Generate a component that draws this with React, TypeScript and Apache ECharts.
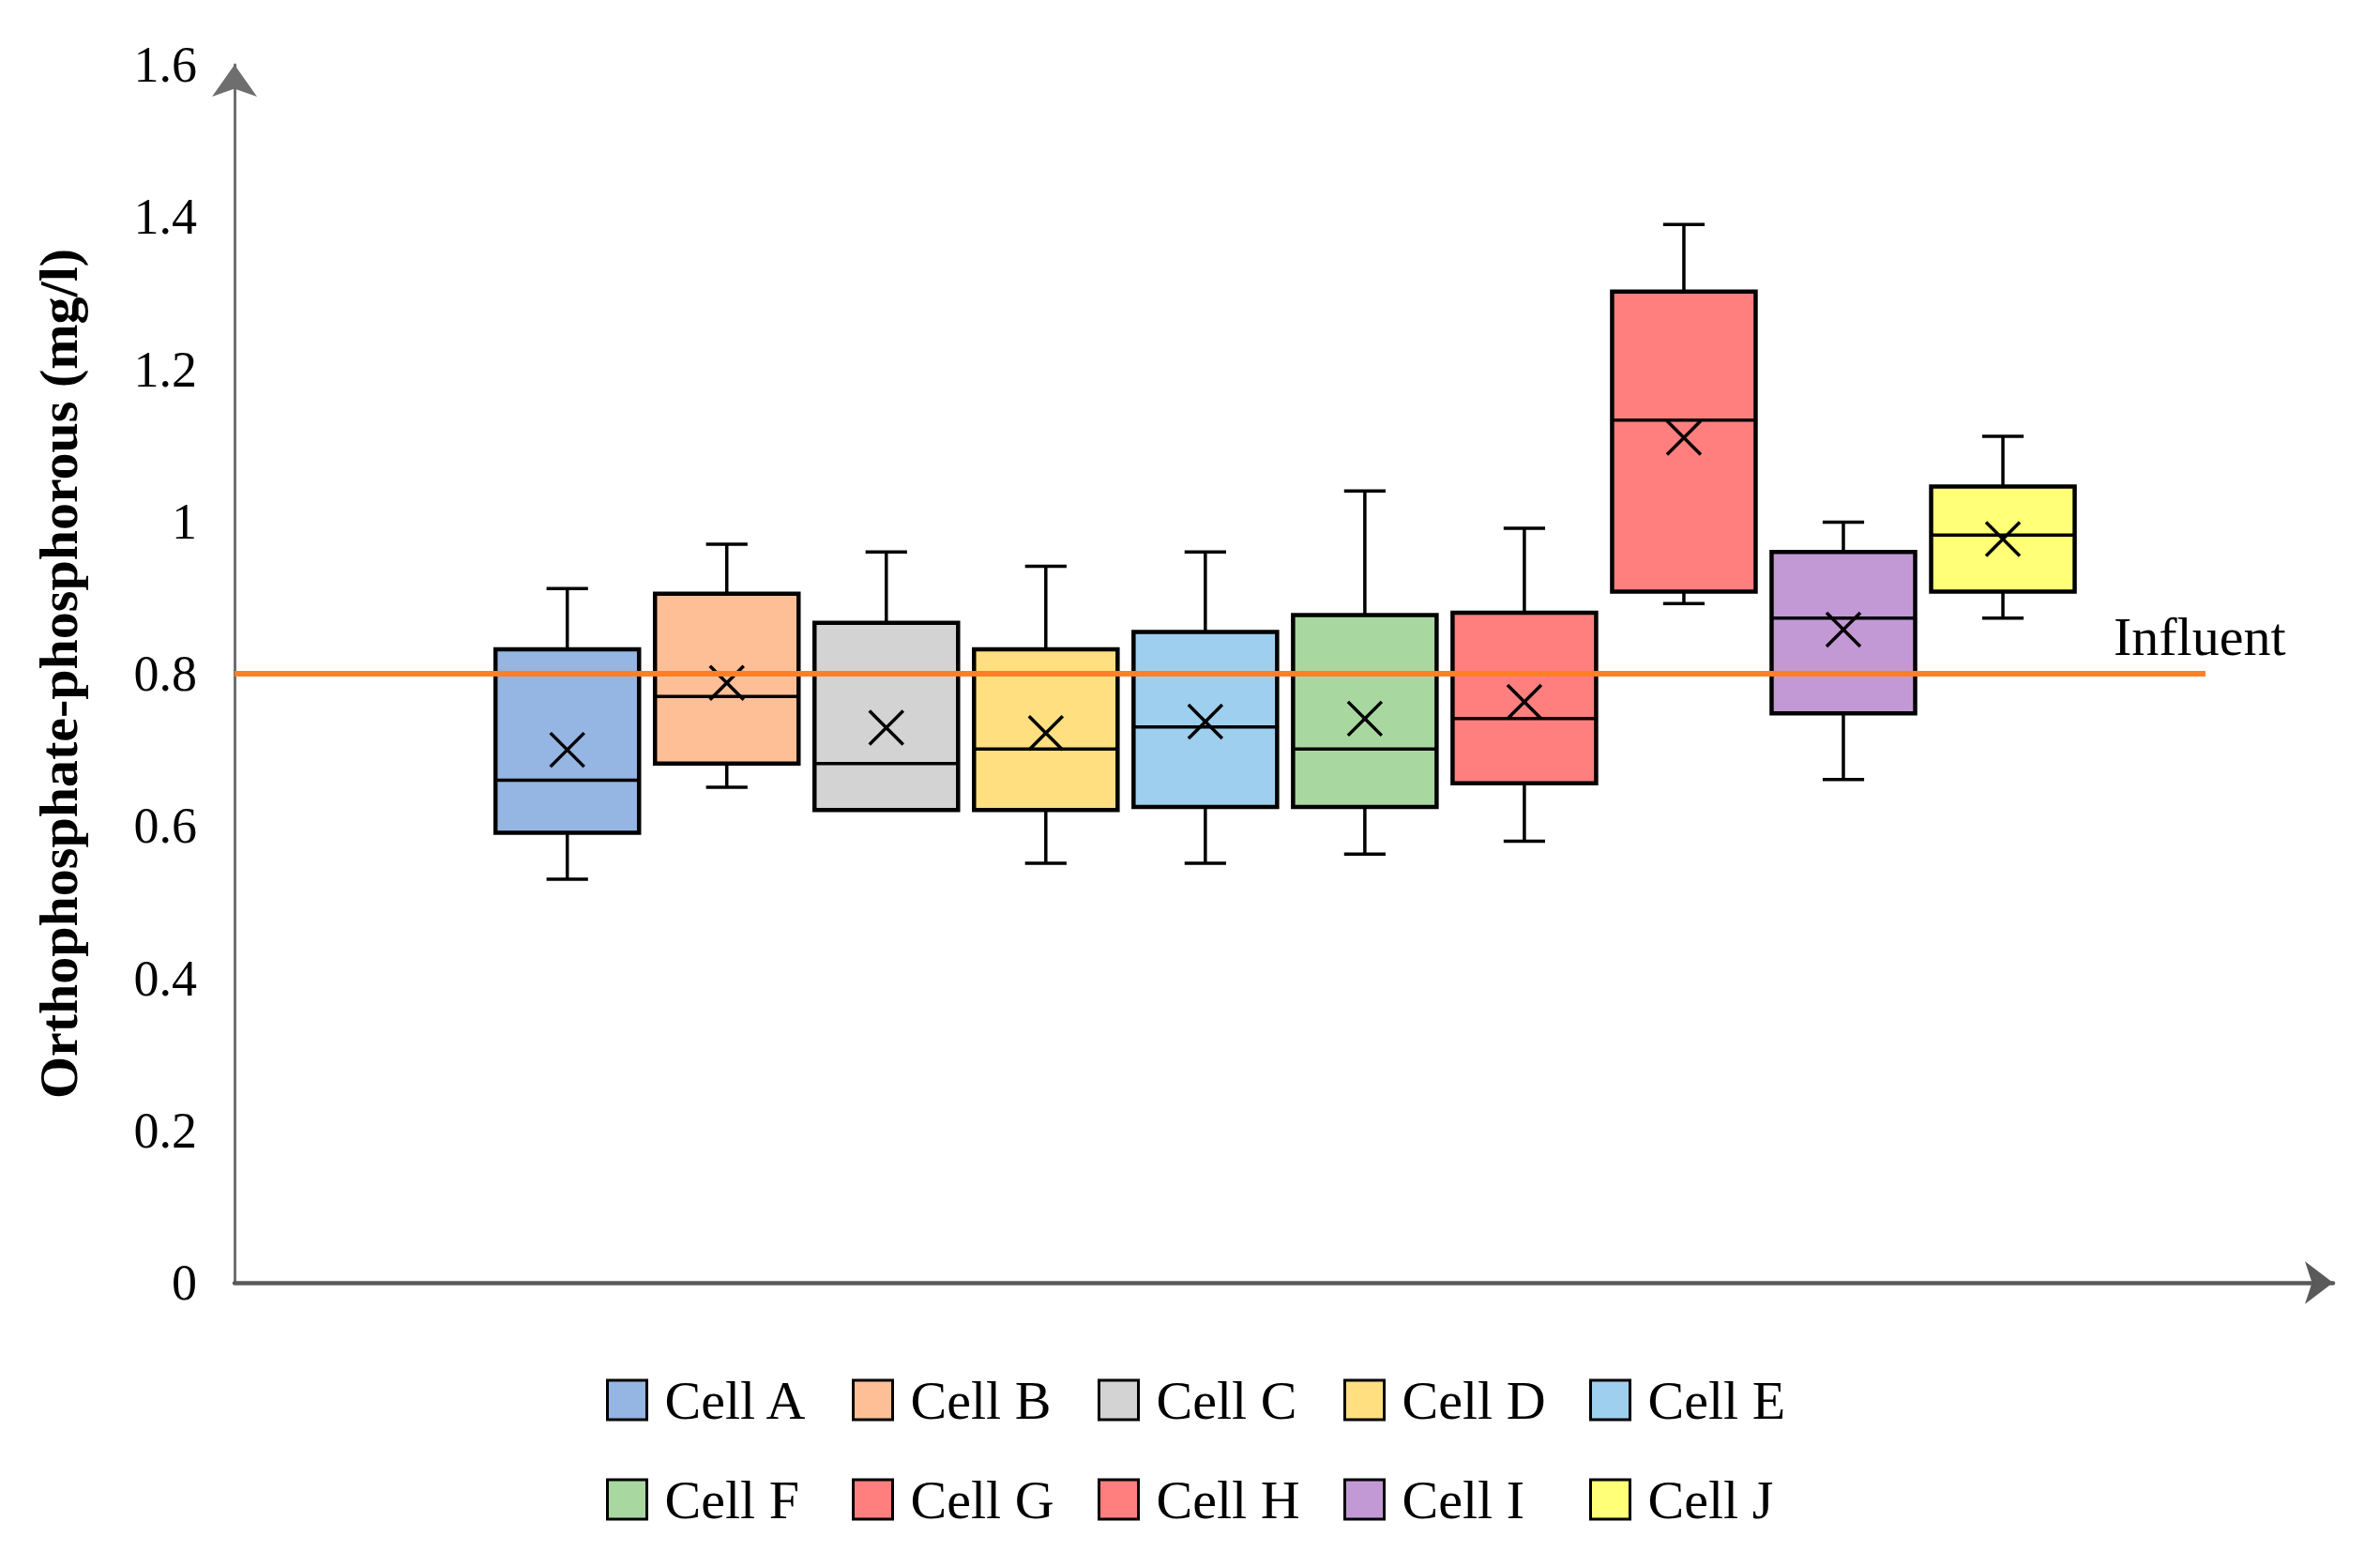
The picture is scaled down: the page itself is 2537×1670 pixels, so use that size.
import React, { useEffect, useRef } from "react";
import * as echarts from "echarts";

const cells = ["Cell A", "Cell B", "Cell C", "Cell D", "Cell E", "Cell F", "Cell G", "Cell H", "Cell I", "Cell J"];
const colors = ["#95B5E2", "#FFBF96", "#D3D3D3", "#FFDF80", "#9FCFEE", "#A8D8A0", "#FF7F7F", "#FF7F7F", "#C399D5", "#FFFF78"];
const whiskerLow = [0.530, 0.651, 0.621, 0.551, 0.551, 0.563, 0.580, 0.892, 0.661, 0.873];
const q1 = [0.591, 0.682, 0.621, 0.621, 0.625, 0.625, 0.656, 0.908, 0.748, 0.908];
const median = [0.660, 0.770, 0.682, 0.701, 0.730, 0.701, 0.741, 1.133, 0.873, 0.982];
const q3 = [0.832, 0.905, 0.867, 0.832, 0.855, 0.877, 0.880, 1.302, 0.960, 1.046];
const whiskerHigh = [0.912, 0.970, 0.960, 0.941, 0.960, 1.040, 0.991, 1.390, 0.999, 1.112];
const means = [0.700, 0.788, 0.729, 0.722, 0.737, 0.741, 0.763, 1.110, 0.858, 0.977];
const influentValue = 0.8;
const yTicks = { min: 0, max: 1.6, interval: 0.2 };

const FONT = '"Liberation Serif", "Times New Roman", serif';
const X_MIN = -1.086;
const X_MAX = 12.07;
const INFLUENT_END = 11.27;
const BOX_W = 0.9;
const CAP_W = 0.26;

export default function App() {
  const ref = useRef<HTMLDivElement>(null);
  useEffect(() => {
    document.body.style.margin = "0";
    const chart = echarts.init(ref.current!, null, { renderer: "svg" });

    const boxSeries = cells.map((name, i) => ({
      type: "custom",
      name,
      z: 2,
      itemStyle: { color: colors[i], borderColor: "#000", borderWidth: 3 },
      encode: { x: 0, y: [1, 2, 3, 4, 5, 6] },
      data: [[i + 1, whiskerLow[i], q1[i], median[i], q3[i], whiskerHigh[i], means[i]]],
      renderItem: (params: any, api: any) => {
        const x = api.value(0);
        const pLo = api.coord([x, api.value(1)]);
        const pA = api.coord([x, api.value(2)]);
        const pM = api.coord([x, api.value(3)]);
        const pB = api.coord([x, api.value(4)]);
        const pHi = api.coord([x, api.value(5)]);
        const pMu = api.coord([x, api.value(6)]);
        const bw = api.size([BOX_W, 0])[0];
        const cw = api.size([CAP_W, 0])[0];
        const cx = pLo[0];
        const st = { stroke: "#000", lineWidth: 3.5 };
        const xs = 18;
        return {
          type: "group",
          children: [
            { type: "line", shape: { x1: cx, y1: pHi[1], x2: cx, y2: pB[1] }, style: st },
            { type: "line", shape: { x1: cx, y1: pLo[1], x2: cx, y2: pA[1] }, style: st },
            { type: "line", shape: { x1: cx - cw / 2, y1: pHi[1], x2: cx + cw / 2, y2: pHi[1] }, style: st },
            { type: "line", shape: { x1: cx - cw / 2, y1: pLo[1], x2: cx + cw / 2, y2: pLo[1] }, style: st },
            {
              type: "rect",
              shape: { x: cx - bw / 2, y: pB[1], width: bw, height: pA[1] - pB[1] },
              style: { fill: colors[i], stroke: "#000", lineWidth: 4.5 },
            },
            { type: "line", shape: { x1: cx - bw / 2, y1: pM[1], x2: cx + bw / 2, y2: pM[1] }, style: st },
            { type: "line", shape: { x1: cx - xs, y1: pMu[1] - xs, x2: cx + xs, y2: pMu[1] + xs }, style: st },
            { type: "line", shape: { x1: cx - xs, y1: pMu[1] + xs, x2: cx + xs, y2: pMu[1] - xs }, style: st },
          ],
        };
      },
    }));

    const option: any = {
      animation: false,
      backgroundColor: "#fff",
      grid: { left: 250, right: 50, top: 69, bottom: 303, containLabel: false },
      xAxis: {
        type: "value",
        min: X_MIN,
        max: X_MAX,
        axisLabel: { show: false },
        axisTick: { show: false },
        splitLine: { show: false },
        axisLine: {
          show: true,
          onZero: false,
          symbol: ["none", "arrow"],
          symbolSize: [34, 30],
          lineStyle: { color: "#5a5a5a", width: 4.5 },
        },
      },
      yAxis: {
        type: "value",
        min: yTicks.min,
        max: yTicks.max,
        interval: yTicks.interval,
        name: "Orthophosphate-phosphorous (mg/l)",
        nameLocation: "middle",
        nameGap: 159,
        nameTextStyle: { fontFamily: FONT, fontSize: 58, fontWeight: "bold", color: "#000" },
        axisLabel: { fontFamily: FONT, fontSize: 54, color: "#000", margin: 40 },
        axisTick: { show: false },
        splitLine: { show: false },
        axisLine: {
          show: true,
          onZero: false,
          symbol: ["none", "arrow"],
          symbolSize: [36, 34],
          lineStyle: { color: "#6e6e6e", width: 3 },
        },
      },
      legend: cells.map((c, i) => ({
        data: [{ name: c, itemStyle: { color: colors[i], borderColor: "#000", borderWidth: 3 } }],
        left: 646 + (i % 5) * 262,
        top: (i < 5 ? 1485 : 1591) - 22,
        itemWidth: 42,
        itemHeight: 42,
        padding: 0,
        icon: "rect",
        selectedMode: false,
        textStyle: { fontFamily: FONT, fontSize: 58, color: "#000", lineHeight: 44, padding: [0, 0, 0, 14] },
      })),
      series: [
        ...boxSeries,
        {
          type: "line",
          name: "Influent",
          z: 5,
          symbol: "none",
          data: [
            [X_MIN, influentValue],
            [INFLUENT_END, influentValue],
          ],
          lineStyle: { color: "#FF7F27", width: 6 },
          endLabel: {
            show: true,
            formatter: "Influent",
            fontFamily: FONT,
            fontSize: 58,
            color: "#000",
            offset: [-106, -40],
          },
        },
      ],
    };
    chart.setOption(option);
    return () => chart.dispose();
  }, []);
  return <div ref={ref} style={{ width: 2537, height: 1670 }} />;
}
